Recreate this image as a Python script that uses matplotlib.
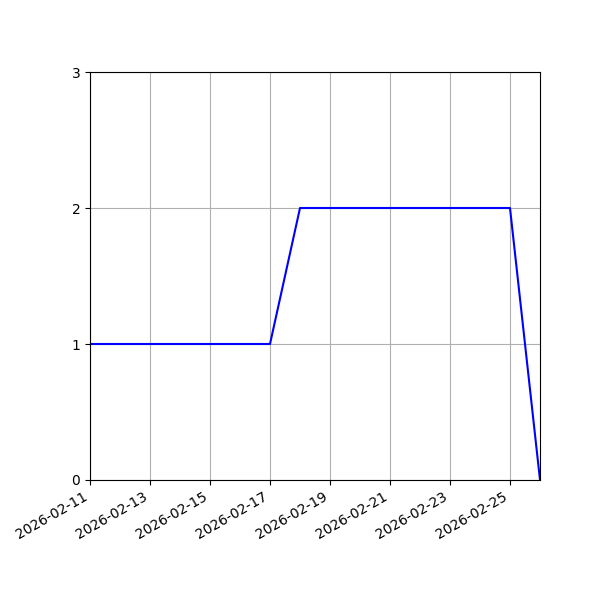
import matplotlib
matplotlib.use("Agg")
import matplotlib.pyplot as plt
import matplotlib.dates as mdates
import pandas as pd

dates = pd.date_range("2026-02-11", "2026-02-26", freq="D")
values = [1, 1, 1, 1, 1, 1, 1, 2, 2, 2, 2, 2, 2, 2, 2, 0]

fig, ax = plt.subplots(figsize=(6, 6), dpi=100)
ax.plot(dates, values, color="blue")
ax.set_xlim(dates[0], dates[-1])
ax.set_ylim(0, 3)
ax.set_yticks([0, 1, 2, 3])
ax.xaxis.set_major_locator(mdates.DayLocator(bymonthday=range(1, 32, 2)))
ax.xaxis.set_major_formatter(mdates.DateFormatter("%Y-%m-%d"))
ax.grid(True)
fig.autofmt_xdate()
fig.subplots_adjust(left=0.15, bottom=0.2, right=0.9, top=0.88)
fig.savefig("out.png")
